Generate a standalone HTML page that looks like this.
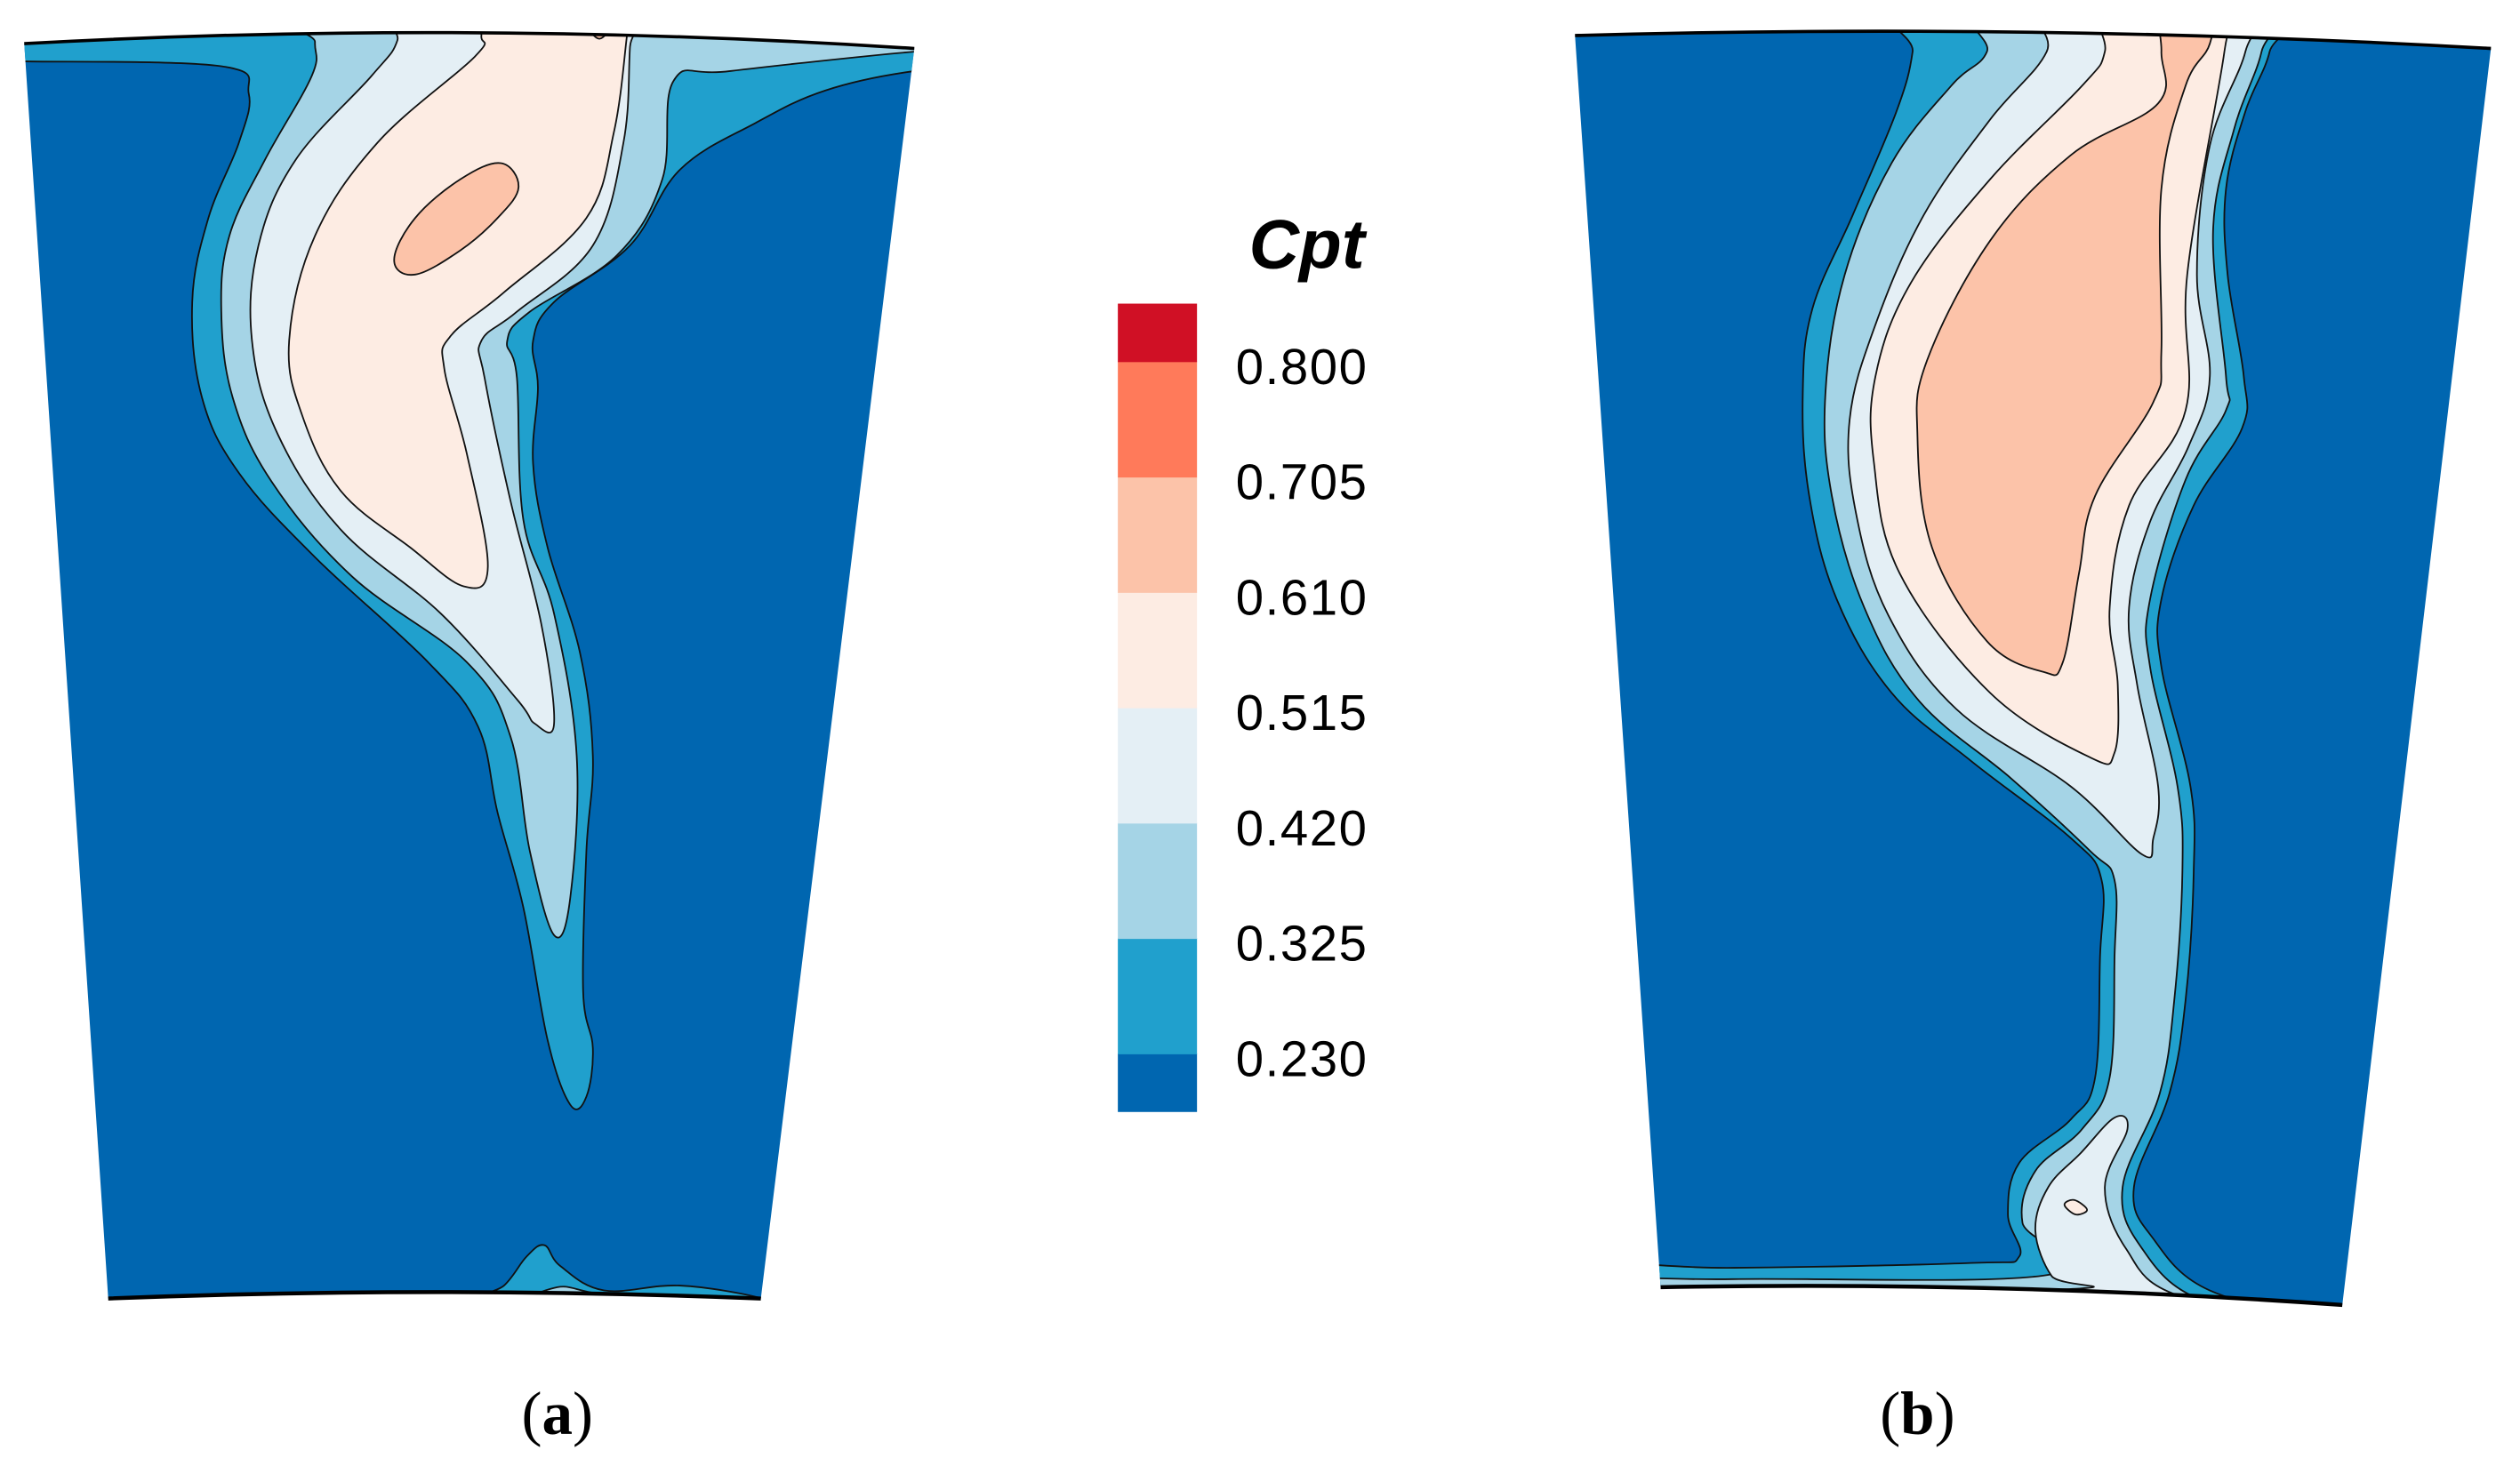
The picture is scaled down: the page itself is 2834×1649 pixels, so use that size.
<!DOCTYPE html>
<html><head><meta charset="utf-8">
<style>
html,body{margin:0;padding:0;background:#fff;}
svg{display:block;}
</style></head>
<body>
<svg id="fig" width="2834" height="1649" viewBox="0 0 1560 907.7" preserveAspectRatio="none" xmlns="http://www.w3.org/2000/svg">
<defs>
<clipPath id="clipA"><path d="M15,27 Q290,12 566,30 L471,804 Q270,796 67,804 Z"/></clipPath>
<clipPath id="clipB"><path d="M975,22 Q1260,14 1542,30 L1450,808 Q1240,793 1028,797 Z"/></clipPath>
</defs>
<g id="panelA" clip-path="url(#clipA)"></g>
<path d="M15,27 Q290,12 566,30" fill="none" stroke="#000" stroke-width="2"/>
<path d="M67,804 Q270,796 471,804" fill="none" stroke="#000" stroke-width="2.5"/>
<g id="panelB" clip-path="url(#clipB)"></g>
<path d="M975,22 Q1260,14 1542,30" fill="none" stroke="#000" stroke-width="2"/>
<path d="M1028,797 Q1240,793 1450,808" fill="none" stroke="#000" stroke-width="2.5"/>
<g id="colorbar"></g>
<text x="809" y="166" font-family="Liberation Sans, sans-serif" font-weight="bold" font-style="italic" font-size="43" text-anchor="middle">Cpt</text>
<text x="345" y="888" font-family="Liberation Serif, serif" font-size="38" text-anchor="middle">(<tspan font-weight="bold">a</tspan>)</text>
<text x="1187" y="888" font-family="Liberation Serif, serif" font-size="38" text-anchor="middle">(<tspan font-weight="bold">b</tspan>)</text>
</svg>
<script>
const levelColors = ["#0066b0","#20a0cd","#a5d4e6","#e4eff5","#fdece3","#fcc3a9","#ff7a5a","#d01025"];
const tickLabels = ["0.230","0.325","0.420","0.515","0.610","0.705","0.800"];
const NS = "http://www.w3.org/2000/svg";
const cbTop = 188, cbBottom = 688, cbX = 692, cbW = 49;
const nBands = levelColors.length - 1;
const bandH = (cbBottom - cbTop) / nBands;
function yOfLevel(i){ return cbBottom - bandH/2 - i*bandH; }
const cb = document.getElementById('colorbar');
levelColors.forEach((c,i)=>{
  const r = document.createElementNS(NS,'rect');
  const yHi = i===levelColors.length-1 ? cbTop : yOfLevel(i);
  const yLo = i===0 ? cbBottom : yOfLevel(i-1);
  r.setAttribute('x',cbX); r.setAttribute('y',yHi);
  r.setAttribute('width',cbW); r.setAttribute('height',yLo-yHi+0.5);
  r.setAttribute('fill',c);
  
  
  cb.appendChild(r);
});
tickLabels.forEach((t,i)=>{
  const tx = document.createElementNS(NS,'text');
  tx.setAttribute('x',765); tx.setAttribute('y',yOfLevel(i)+14);
  tx.setAttribute('font-family','Liberation Sans, sans-serif');
  tx.setAttribute('font-size','31');
  tx.setAttribute('textLength','81');
  tx.textContent = t;
  
  
  cb.appendChild(tx);
});

const regionsA = [
 [0,[[0,0],[600,0],[600,830],[0,830]]],
 [1,[[0,0],[600,0],[600,44],[566,44],[511,56],[468,76],[421,105],[390,152],[343,187],[330,211],[333,240],[330,287],[339,339],[359,404],[367,468],[363,527],[361,614],[367,649],[363,679],[353,684],[339,644],[324,562],[308,503],[296,450],[265,410],[195,345],[148,293],[125,246],[119,187],[129,135],[148,88],[154,58],[137,41],[16,38],[0,38]]],
 [2,[[195,0],[600,0],[600,32],[566,32],[452,44],[417,50],[410,111],[382,158],[328,193],[314,211],[320,234],[324,322],[343,380],[357,468],[353,556],[343,579],[328,527],[316,456],[289,410],[218,357],[168,298],[144,246],[137,193],[142,146],[164,99],[193,47],[195,26]]],
 [3,[[246,0],[392,0],[390,29],[386,88],[367,152],[320,193],[298,211],[300,234],[316,310],[335,386],[343,448],[331,448],[320,433],[273,380],[211,328],[172,269],[156,211],[160,152],[183,99],[230,47],[246,25]]],
 [4,[[298,0],[390,0],[388,23],[380,82],[363,135],[312,181],[279,208],[275,228],[289,281],[302,351],[287,363],[254,339],[211,304],[187,257],[179,211],[195,146],[234,88],[294,35],[298,22]]],
 [5,[[244,161],[257,135],[285,111],[310,101],[321,116],[308,135],[285,155],[257,170]]],
 [5,[[358,0],[385,0],[371,24]]],
 [1,[[290,812],[312,796],[326,778],[337,771],[347,784],[374,799],[421,796],[472,804],[480,812]]],
 [2,[[330,812],[345,797],[380,802],[472,806],[480,812]]],
];
const regionsB = [
 [0,[[960,0],[1560,0],[1560,830],[960,830]]],
 [1,[[1184,0],[1406,0],[1405,32],[1390,69],[1378,117],[1379,170],[1389,233],[1388,265],[1358,313],[1338,371],[1338,413],[1356,487],[1358,540],[1353,619],[1343,677],[1321,735],[1333,767],[1368,799],[1441,815],[1560,830],[960,830],[960,785],[1073,785],[1220,782],[1250,778],[1243,752],[1250,720],[1282,693],[1297,667],[1300,593],[1301,545],[1282,519],[1220,471],[1171,429],[1137,371],[1120,307],[1116,244],[1122,191],[1147,133],[1174,69],[1184,32]]],
 [2,[[1230,0],[1401,0],[1400,32],[1383,80],[1370,143],[1378,233],[1378,254],[1353,297],[1331,371],[1331,413],[1348,487],[1351,540],[1346,619],[1337,677],[1314,735],[1326,773],[1363,805],[1441,818],[1560,830],[960,830],[960,794],[1073,792],[1270,789],[1252,757],[1260,725],[1289,699],[1306,667],[1309,593],[1309,545],[1294,527],[1245,482],[1188,434],[1154,376],[1134,307],[1130,244],[1142,170],[1171,101],[1208,53],[1230,32]]],
 [3,[[1267,0],[1391,0],[1390,32],[1368,90],[1360,170],[1368,233],[1355,276],[1331,323],[1318,376],[1323,424],[1336,487],[1333,519],[1326,529],[1282,487],[1211,439],[1169,381],[1149,318],[1145,260],[1161,201],[1191,133],[1232,74],[1267,32]]],
 [3,[[1309,692],[1317,699],[1303,735],[1316,773],[1348,802],[1441,818],[1441,830],[1100,830],[1100,801],[1285,798],[1270,790],[1260,762],[1268,735],[1288,714]]],
 [4,[[1303,0],[1378,0],[1377,32],[1354,170],[1353,254],[1318,313],[1306,376],[1311,424],[1309,466],[1294,469],[1232,429],[1176,355],[1160,286],[1161,233],[1183,175],[1232,111],[1289,53],[1303,32]]],
 [4,[[1278,746],[1284,743],[1292,749],[1285,752]]],
 [4,[[1300,806],[1340,806],[1360,812],[1300,812]]],
 [5,[[1338,0],[1369,0],[1368,27],[1353,53],[1338,117],[1338,217],[1333,249],[1297,307],[1287,355],[1277,410],[1265,416],[1230,397],[1196,339],[1187,270],[1193,223],[1232,149],[1282,96],[1336,64],[1338,32]]],
];
function smoothPath(pts){
  const n = pts.length;
  let d = 'M'+pts[0][0]+','+pts[0][1];
  for(let i=0;i<n;i++){
    const p0=pts[(i-1+n)%n], p1=pts[i], p2=pts[(i+1)%n], p3=pts[(i+2)%n];
    const t=0.18;
    const c1=[p1[0]+(p2[0]-p0[0])*t, p1[1]+(p2[1]-p0[1])*t];
    const c2=[p2[0]-(p3[0]-p1[0])*t, p2[1]-(p3[1]-p1[1])*t];
    d+=' C'+c1[0].toFixed(1)+','+c1[1].toFixed(1)+' '+c2[0].toFixed(1)+','+c2[1].toFixed(1)+' '+p2[0]+','+p2[1];
  }
  return d+'Z';
}
function drawRegions(gid, regions, nm){
  const g = document.getElementById(gid);
  regions.forEach(([lv,pts],i)=>{
    const p = document.createElementNS(NS,'path');
    p.setAttribute('d', i===0 ? 'M'+pts.map(q=>q.join(',')).join('L')+'Z' : smoothPath(pts));
    p.setAttribute('fill', levelColors[lv]);
    p.setAttribute('stroke', i===0?'none':'#111');
    p.setAttribute('stroke-width','1');
    p.setAttribute('stroke-linejoin','round');
    
    
    g.appendChild(p);
  });
}
drawRegions('panelA', regionsA, 'panel-a');
drawRegions('panelB', regionsB, 'panel-b');
</script>
</body></html>
